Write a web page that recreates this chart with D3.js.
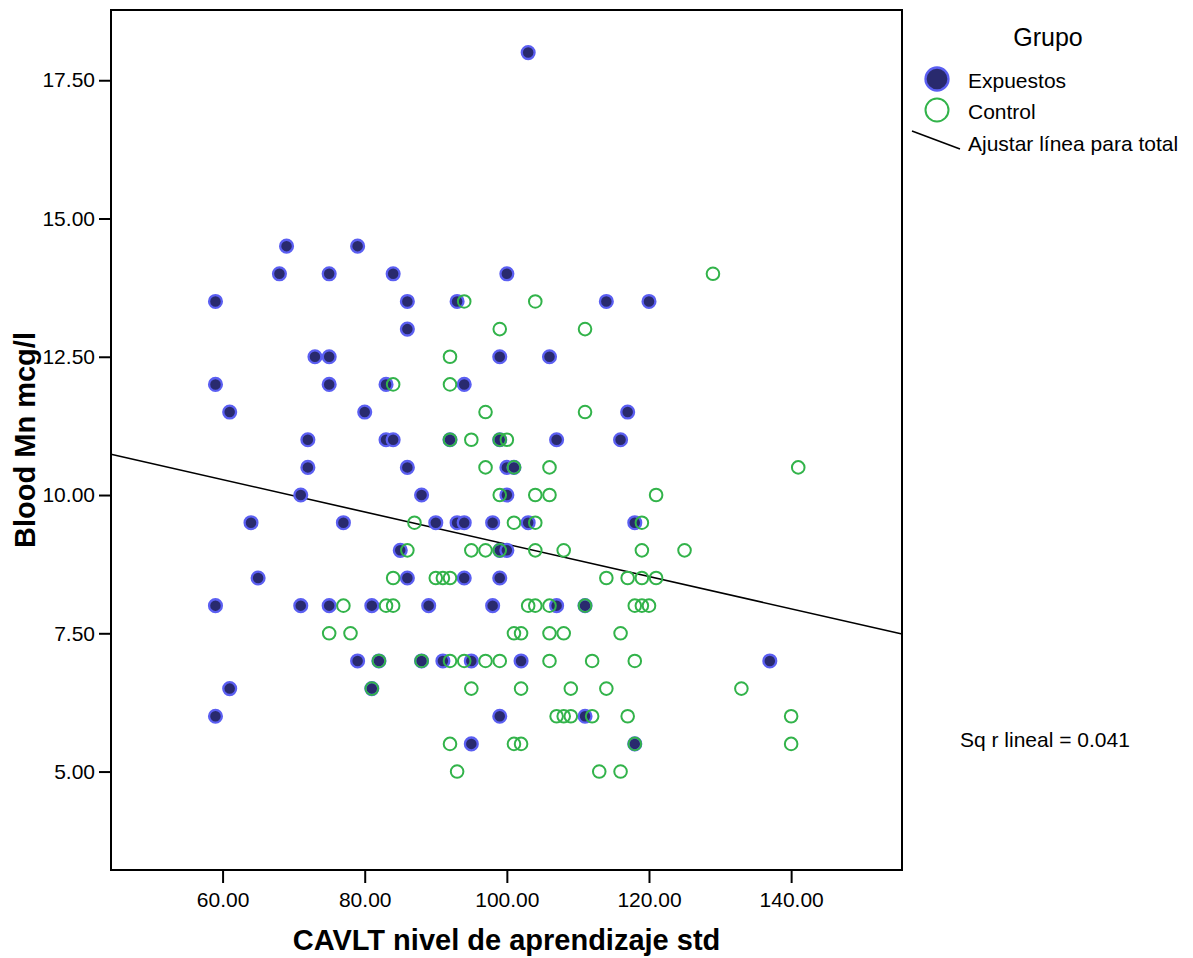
<!DOCTYPE html>
<html>
<head>
<meta charset="utf-8">
<script src="https://cdn.jsdelivr.net/npm/d3@7"></script>
<style>
  body { margin: 0; background: #fff; }
  text { font-family: "Liberation Sans", Arial, sans-serif; }
</style>
</head>
<body>
<div id="chart"></div>
<script>
// Grupo = Expuestos
var exp_x = [103, 69, 79, 68, 75, 84, 100, 59, 86, 93, 114, 120, 86, 73, 75, 99, 106,
  59, 75, 83, 94, 61, 80, 117, 72, 83, 84, 92, 99, 107, 116, 72, 86, 100, 101,
  71, 88, 100, 64, 77, 90, 93, 94, 98, 103, 118, 85, 99, 100, 65, 86, 94, 99,
  59, 71, 75, 81, 89, 98, 107, 111, 79, 82, 88, 91, 95, 102, 137, 61, 81,
  59, 99, 111, 95, 118];
var exp_y = [18, 14.5, 14.5, 14, 14, 14, 14, 13.5, 13.5, 13.5, 13.5, 13.5, 13, 12.5, 12.5, 12.5, 12.5,
  12, 12, 12, 12, 11.5, 11.5, 11.5, 11, 11, 11, 11, 11, 11, 11, 10.5, 10.5, 10.5, 10.5,
  10, 10, 10, 9.5, 9.5, 9.5, 9.5, 9.5, 9.5, 9.5, 9.5, 9, 9, 9, 8.5, 8.5, 8.5, 8.5,
  8, 8, 8, 8, 8, 8, 8, 8, 7, 7, 7, 7, 7, 7, 7, 6.5, 6.5,
  6, 6, 6, 5.5, 5.5];

// Grupo = Control
var ctl_x = [129, 94, 104, 99, 111, 92, 84, 92, 97, 111, 92, 95, 99, 100,
  97, 101, 106, 141, 99, 104, 106, 121, 87, 101, 104, 119,
  86, 95, 97, 99, 104, 108, 119, 125, 84, 90, 91, 92, 114, 117, 119, 121,
  77, 83, 84, 103, 104, 106, 111, 118, 119, 120, 75, 78, 101, 102, 106, 108, 116,
  82, 88, 92, 94, 97, 99, 106, 112, 118, 81, 95, 102, 109, 114, 133,
  107, 108, 109, 112, 117, 140, 92, 101, 102, 118, 140, 93, 113, 116];
var ctl_y = [14, 13.5, 13.5, 13, 13, 12.5, 12, 12, 11.5, 11.5, 11, 11, 11, 11,
  10.5, 10.5, 10.5, 10.5, 10, 10, 10, 10, 9.5, 9.5, 9.5, 9.5,
  9, 9, 9, 9, 9, 9, 9, 9, 8.5, 8.5, 8.5, 8.5, 8.5, 8.5, 8.5, 8.5,
  8, 8, 8, 8, 8, 8, 8, 8, 8, 8, 7.5, 7.5, 7.5, 7.5, 7.5, 7.5, 7.5,
  7, 7, 7, 7, 7, 7, 7, 7, 7, 6.5, 6.5, 6.5, 6.5, 6.5, 6.5,
  6, 6, 6, 6, 6, 6, 5.5, 5.5, 5.5, 5.5, 5.5, 5, 5, 5];

// fit line for total
var fit_intercept = 12.03, fit_slope = -0.0292;

var x_ticks = [60, 80, 100, 120, 140];
var y_ticks = [5, 7.5, 10, 12.5, 15, 17.5];

var W = 1193, H = 958;
var m = {left: 111, right: 902, top: 10, bottom: 870};

var svg = d3.select("#chart").append("svg")
  .attr("width", W)
  .attr("height", H);

var x = d3.scaleLinear().domain([44.3, 155.6]).range([m.left, m.right]);
var y = d3.scaleLinear().domain([3.22, 18.77]).range([m.bottom, m.top]);

var fill_exp = "#292a6e", stroke_exp = "#5b5ff2", green = "#32b34a";
var font = "'Liberation Sans', Arial, sans-serif";

// axes
svg.append("g")
  .attr("transform", "translate(" + m.left + ",0)")
  .call(d3.axisLeft(y).tickValues(y_ticks).tickFormat(d3.format(".2f")).tickSize(12).tickPadding(4))
  .call(g => g.select(".domain").remove())
  .call(g => g.selectAll("line").attr("stroke", "#000").attr("stroke-width", 2))
  .call(g => g.selectAll("text").attr("font-size", "21px").attr("fill", "#000").attr("font-family", font));

svg.append("g")
  .attr("transform", "translate(0," + m.bottom + ")")
  .call(d3.axisBottom(x).tickValues(x_ticks).tickFormat(d3.format(".2f")).tickSize(13).tickPadding(9))
  .call(g => g.select(".domain").remove())
  .call(g => g.selectAll("line").attr("stroke", "#000").attr("stroke-width", 2))
  .call(g => g.selectAll("text").attr("font-size", "21px").attr("fill", "#000").attr("font-family", font));

// frame
svg.append("rect")
  .attr("x", m.left).attr("y", m.top)
  .attr("width", m.right - m.left).attr("height", m.bottom - m.top)
  .attr("fill", "none").attr("stroke", "#000").attr("stroke-width", 2);

// fit line
var x0 = x.domain()[0], x1 = x.domain()[1];
svg.append("line")
  .attr("x1", x(x0)).attr("y1", y(fit_intercept + fit_slope * x0))
  .attr("x2", x(x1)).attr("y2", y(fit_intercept + fit_slope * x1))
  .attr("stroke", "#000").attr("stroke-width", 1.6);

// points
svg.append("g").selectAll("circle")
  .data(d3.range(exp_x.length))
  .enter().append("circle")
  .attr("cx", i => x(exp_x[i]))
  .attr("cy", i => y(exp_y[i]))
  .attr("r", 6.4)
  .attr("fill", fill_exp)
  .attr("stroke", stroke_exp)
  .attr("stroke-width", 2.3);

svg.append("g").selectAll("circle")
  .data(d3.range(ctl_x.length))
  .enter().append("circle")
  .attr("cx", i => x(ctl_x[i]))
  .attr("cy", i => y(ctl_y[i]))
  .attr("r", 6.3)
  .attr("fill", "none")
  .attr("stroke", green)
  .attr("stroke-width", 2);

// axis titles
svg.append("text")
  .attr("x", (m.left + m.right) / 2).attr("y", 950)
  .attr("text-anchor", "middle")
  .attr("font-size", "29px").attr("font-weight", "bold")
  .text("CAVLT nivel de aprendizaje std");

svg.append("text")
  .attr("transform", "translate(35,440) rotate(-90)")
  .attr("text-anchor", "middle")
  .attr("font-size", "29px").attr("font-weight", "bold")
  .text("Blood Mn mcg/l");

// legend
svg.append("text")
  .attr("x", 1048).attr("y", 46)
  .attr("text-anchor", "middle")
  .attr("font-size", "25px")
  .text("Grupo");

svg.append("circle")
  .attr("cx", 937).attr("cy", 79).attr("r", 11.5)
  .attr("fill", fill_exp).attr("stroke", stroke_exp).attr("stroke-width", 2.3);
svg.append("text")
  .attr("x", 968).attr("y", 88).attr("font-size", "21px").text("Expuestos");

svg.append("circle")
  .attr("cx", 937).attr("cy", 110).attr("r", 11.5)
  .attr("fill", "none").attr("stroke", green).attr("stroke-width", 2);
svg.append("text")
  .attr("x", 968).attr("y", 119).attr("font-size", "21px").text("Control");

svg.append("line")
  .attr("x1", 912).attr("y1", 131).attr("x2", 960).attr("y2", 149)
  .attr("stroke", "#000").attr("stroke-width", 1.6);
svg.append("text")
  .attr("x", 968).attr("y", 151).attr("font-size", "21px").text("Ajustar línea para total");

svg.append("text")
  .attr("x", 960).attr("y", 747).attr("font-size", "21px").text("Sq r lineal = 0.041");
</script>
</body>
</html>
